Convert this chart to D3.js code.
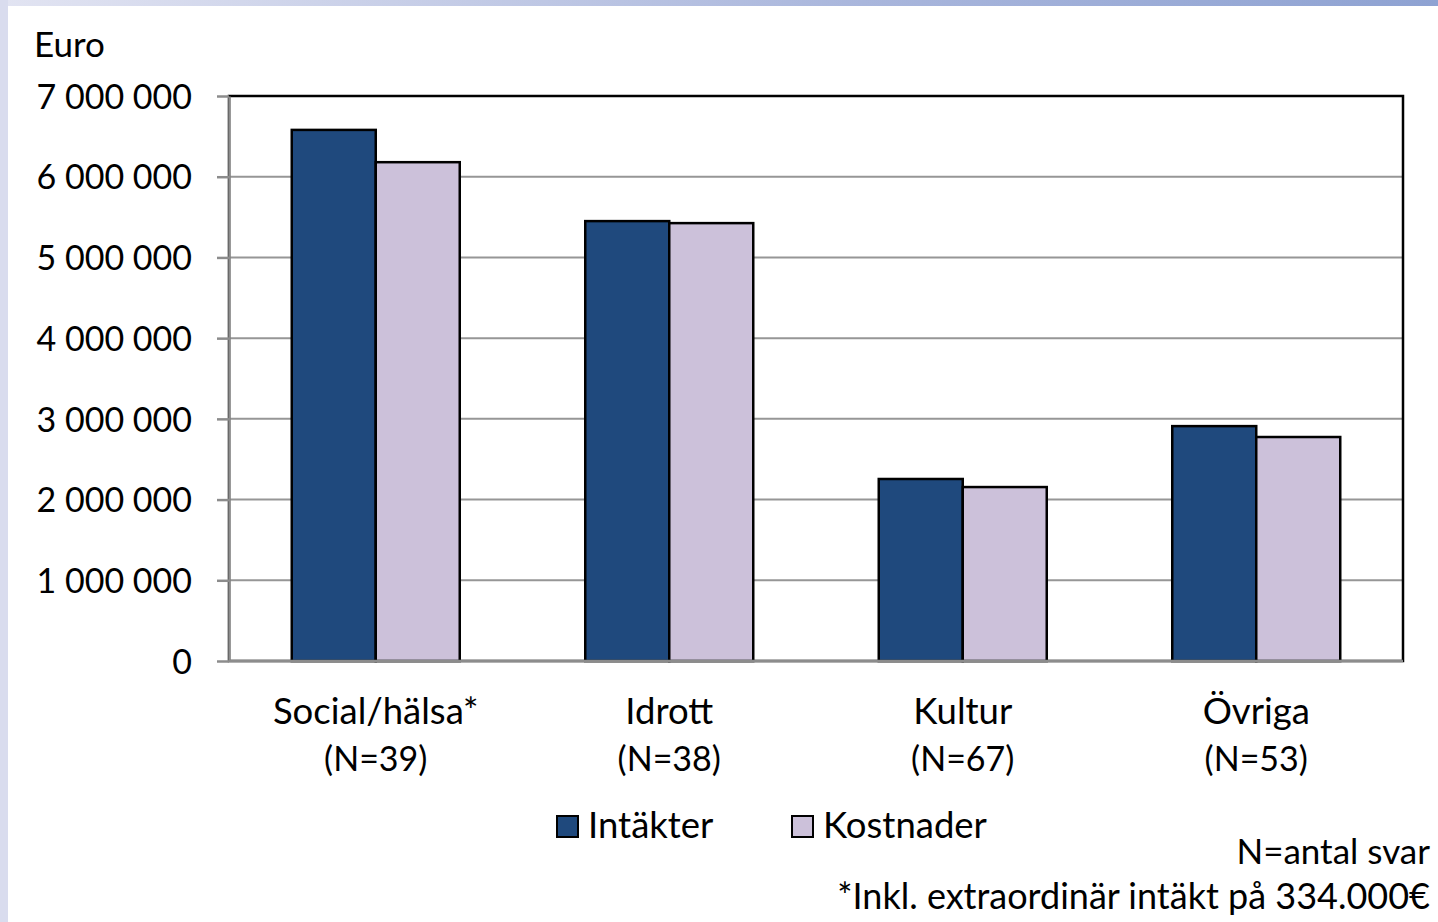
<!DOCTYPE html>
<html>
<head>
<meta charset="utf-8">
<script src="https://cdn.jsdelivr.net/npm/d3@7"></script>
<style>
  body { margin: 0; background: #fff; }
  text { font-family: Lato, "Open Sans", sans-serif; fill: #000; }
</style>
</head>
<body>
<script>
const categories = ["Social/hälsa*", "Idrott", "Kultur", "Övriga"]
const counts = ["(N=39)", "(N=38)", "(N=67)", "(N=53)"]
const seriesNames = ["Intäkter", "Kostnader"]
const intakter = [6580000, 5450000, 2255000, 2910000]
const kostnader = [6180000, 5425000, 2155000, 2775000]
const yTicks = [0, 1000000, 2000000, 3000000, 4000000, 5000000, 6000000, 7000000]
const colors = ["#1f497d", "#ccc1da"]

const width = 1438, height = 922
const m = { top: 96, right: 35, bottom: 261, left: 229 }

const svg = d3.select("body").append("svg")
    .attr("width", width)
    .attr("height", height)

// slide background edges
const grad = svg.append("defs").append("linearGradient").attr("id", "topg")
grad.append("stop").attr("offset", "0%").attr("stop-color", "#e2e4f2")
grad.append("stop").attr("offset", "60%").attr("stop-color", "#a9b6dc")
grad.append("stop").attr("offset", "100%").attr("stop-color", "#8ea2d2")
svg.append("rect").attr("x", 0).attr("y", 0).attr("width", width).attr("height", 6).attr("fill", "url(#topg)")
svg.append("rect").attr("x", 0).attr("y", 0).attr("width", 8).attr("height", height).attr("fill", "#d9dcee")

const locale = d3.formatLocale({ decimal: ",", thousands: " ", grouping: [3], currency: ["", "€"] })
const fmt = locale.format(",d")

const x = d3.scaleBand()
    .domain(categories)
    .range([m.left, width - m.right])
    .paddingInner(0.4276)
    .paddingOuter(0.2138)

const xs = d3.scaleBand().domain(seriesNames).range([0, x.bandwidth()])

const y = d3.scaleLinear()
    .domain([0, 7000000])
    .range([height - m.bottom, m.top])

// gridlines
svg.append("g")
  .selectAll("line")
  .data(yTicks.slice(1))
  .join("line")
    .attr("x1", m.left).attr("x2", width - m.right)
    .attr("y1", d => y(d)).attr("y2", d => y(d))
    .attr("stroke", "#969696").attr("stroke-width", 2)

// plot border
svg.append("rect")
    .attr("x", m.left).attr("y", m.top)
    .attr("width", width - m.right - m.left)
    .attr("height", height - m.bottom - m.top)
    .attr("fill", "none").attr("stroke", "#000").attr("stroke-width", 2.5)

// bars
const data = categories.map((c, i) => ({ cat: c, values: [intakter[i], kostnader[i]] }))
svg.append("g")
  .selectAll("g")
  .data(data)
  .join("g")
    .attr("transform", d => `translate(${x(d.cat)},0)`)
  .selectAll("rect")
  .data(d => d.values.map((v, j) => ({ s: seriesNames[j], v, j })))
  .join("rect")
    .attr("x", d => xs(d.s))
    .attr("y", d => y(d.v))
    .attr("width", xs.bandwidth())
    .attr("height", d => y(0) - y(d.v))
    .attr("fill", d => colors[d.j])
    .attr("stroke", "#000").attr("stroke-width", 2.5)

// y axis
const yAxis = svg.append("g")
    .attr("transform", `translate(${m.left},0)`)
    .call(d3.axisLeft(y).tickValues(yTicks).tickFormat(fmt).tickSize(12).tickPadding(25).tickSizeOuter(0))
yAxis.select(".domain").attr("stroke", "#8c8c8c").attr("stroke-width", 2.5)
yAxis.selectAll(".tick line").attr("stroke", "#8c8c8c").attr("stroke-width", 2.5)
yAxis.selectAll(".tick text").style("font-size", "34px").attr("dy", "0.36em")

// x axis baseline
svg.append("line")
    .attr("x1", m.left).attr("x2", width - m.right)
    .attr("y1", y(0)).attr("y2", y(0))
    .attr("stroke", "#8c8c8c").attr("stroke-width", 2.5)

// category labels
const xl = svg.append("g").selectAll("text")
  .data(categories)
  .join("text")
    .attr("x", d => x(d) + x.bandwidth() / 2)
    .attr("y", 724)
    .attr("text-anchor", "middle")
xl.append("tspan").style("font-size", "36.5px").text(d => d)
xl.append("tspan")
    .attr("x", d => x(d) + x.bandwidth() / 2)
    .attr("dy", 47)
    .style("font-size", "34px")
    .text((d, i) => counts[i])

svg.append("text").attr("x", 34).attr("y", 57).style("font-size", "35px").text("Euro")

// legend
const legendX = [557, 792]
const lg = svg.append("g").selectAll("g")
  .data(seriesNames)
  .join("g")
    .attr("transform", (d, i) => `translate(${legendX[i]},816)`)
lg.append("rect")
    .attr("width", 21).attr("height", 21)
    .attr("fill", (d, i) => colors[i])
    .attr("stroke", "#000").attr("stroke-width", 2)
lg.append("text")
    .attr("x", 31).attr("y", 22)
    .style("font-size", "36.5px")
    .text(d => d)

svg.append("text").attr("x", 1430).attr("y", 864).attr("text-anchor", "end")
    .style("font-size", "35px").text("N=antal svar")
svg.append("text").attr("x", 1430).attr("y", 909).attr("text-anchor", "end")
    .style("font-size", "36px").text("*Inkl. extraordinär intäkt på 334.000€")
</script>
</body>
</html>
